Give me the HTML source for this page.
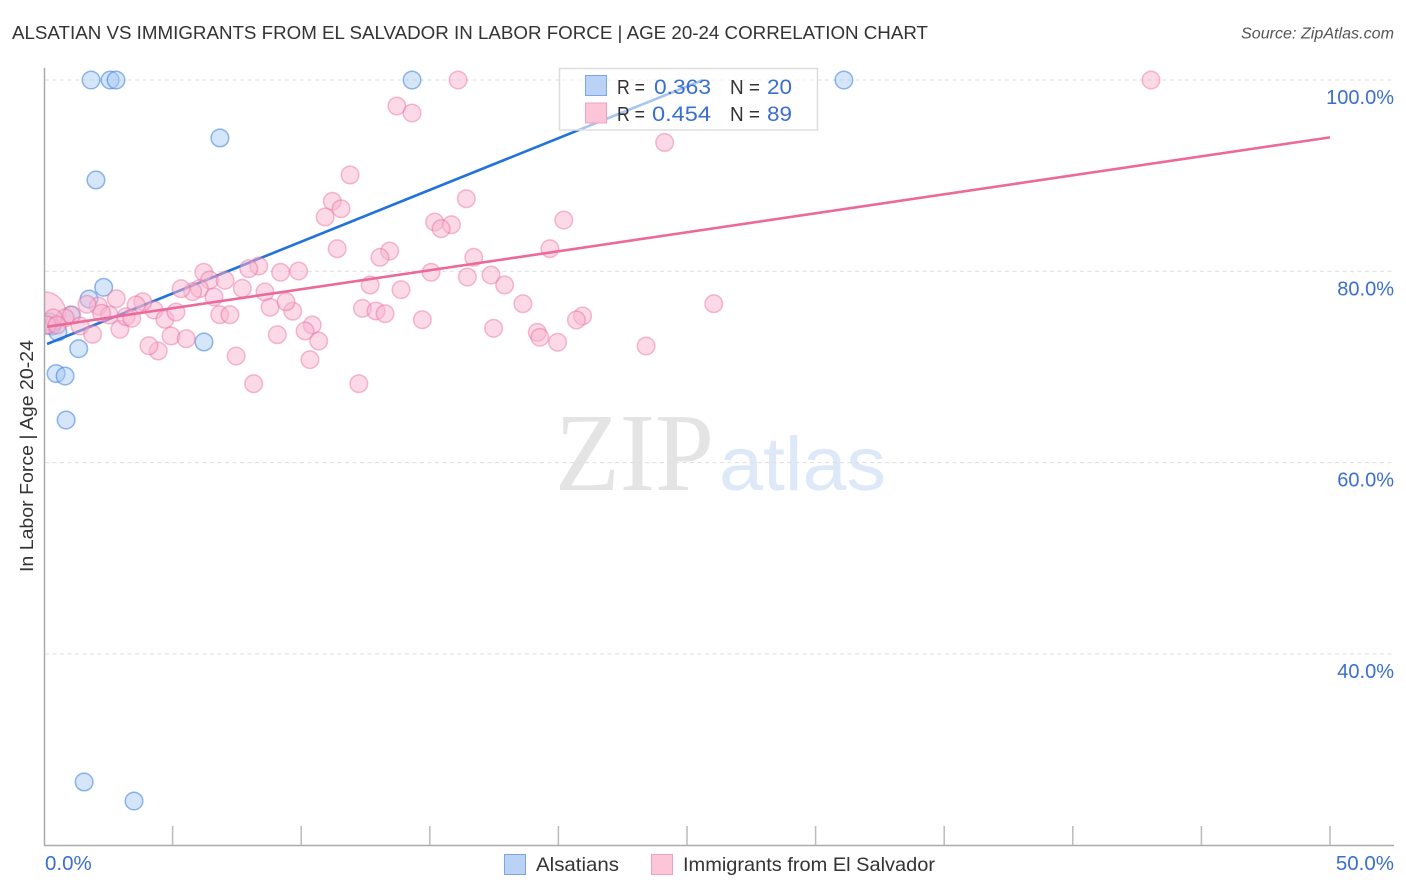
<!DOCTYPE html>
<html lang="en">
<head>
<meta charset="utf-8">
<title>Alsatian vs Immigrants from El Salvador in Labor Force | Age 20-24 Correlation Chart</title>
<style>
html,body{margin:0;padding:0;background:#fff;width:1406px;height:892px;overflow:hidden}
svg{display:block;font-family:"Liberation Sans",sans-serif}
</style>
</head>
<body>
<svg id="chart" xmlns="http://www.w3.org/2000/svg" width="1406" height="892" viewBox="0 0 1406 892">
  <text x="12" y="39" font-size="18.6" fill="#333" textLength="916" lengthAdjust="spacingAndGlyphs">ALSATIAN VS IMMIGRANTS FROM EL SALVADOR IN LABOR FORCE | AGE 20-24 CORRELATION CHART</text>
  <text x="1241" y="38.5" font-size="15.5" font-style="italic" fill="#555" textLength="153" lengthAdjust="spacingAndGlyphs">Source: ZipAtlas.com</text>
  <g>
    <text x="555" y="490" font-family="'Liberation Serif',serif" font-size="111" fill="#e4e4e4" textLength="159" lengthAdjust="spacingAndGlyphs">ZIP</text>
    <text x="719" y="490" font-size="76" fill="#dde8f8" textLength="167" lengthAdjust="spacingAndGlyphs">atlas</text>
  </g>
  <g id="grid"></g>
  <clipPath id="plot-clip"><rect x="45" y="60" width="1349" height="785"></rect></clipPath>
  <g id="marks-blue" clip-path="url(#plot-clip)"></g>
  <g id="trend-blue"></g>
  <g id="marks-pink" clip-path="url(#plot-clip)"></g>
  <g id="trend-pink"></g>
  <rect x="0" y="285" width="43.7" height="54" fill="#fff"></rect>
  <g id="axes"></g>
  <g>
    <rect x="559.5" y="68.5" width="258" height="61.5" fill="#fff" fill-opacity="0.6" stroke="#ddd" stroke-width="1.5"></rect>
    <rect x="585.5" y="75.5" width="21" height="20" fill="#b9d2f6" stroke="#7ba6e2" stroke-width="1"></rect>
    <rect x="585.5" y="103" width="21" height="20" fill="#fcc5d8" stroke="#f0a0bc" stroke-width="1"></rect>
    <text x="617" y="94" font-size="20" fill="#333" textLength="28" lengthAdjust="spacingAndGlyphs">R =</text>
    <text x="654" y="94" font-size="21.5" fill="#3a6fcf" textLength="57" lengthAdjust="spacingAndGlyphs">0.363</text>
    <text x="730" y="94" font-size="20" fill="#333" textLength="30" lengthAdjust="spacingAndGlyphs">N =</text>
    <text x="767" y="94" font-size="21.5" fill="#3a6fcf" textLength="25" lengthAdjust="spacingAndGlyphs">20</text>
    <text x="617" y="121" font-size="20" fill="#333" textLength="28" lengthAdjust="spacingAndGlyphs">R =</text>
    <text x="652" y="121" font-size="21.5" fill="#3a6fcf" textLength="59" lengthAdjust="spacingAndGlyphs">0.454</text>
    <text x="730" y="121" font-size="20" fill="#333" textLength="30" lengthAdjust="spacingAndGlyphs">N =</text>
    <text x="767" y="121" font-size="21.5" fill="#3a6fcf" textLength="25" lengthAdjust="spacingAndGlyphs">89</text>
  </g>
  <text transform="translate(33,456) rotate(-90)" font-size="18.5" fill="#333" text-anchor="middle" textLength="232" lengthAdjust="spacingAndGlyphs">In Labor Force | Age 20-24</text>
  <g>
    <g>
      <rect x="504.5" y="854.5" width="21" height="20" fill="#b9d2f6" stroke="#7ba6e2" stroke-width="1"></rect>
      <text x="536" y="871" font-size="19.5" fill="#333" textLength="83" lengthAdjust="spacingAndGlyphs">Alsatians</text>
    </g>
    <g>
      <rect x="651.5" y="854.5" width="21" height="20" fill="#fcc5d8" stroke="#f0a0bc" stroke-width="1"></rect>
      <text x="683" y="871" font-size="19.5" fill="#333" textLength="252" lengthAdjust="spacingAndGlyphs">Immigrants from El Salvador</text>
    </g>
  </g>
</svg>
<script>
const alsatianX = [1.83,2.57,2.80,14.31,31.10,6.84,2.02,2.32,1.75,1.05,0.23,0.31,0.54,1.35,0.47,0.82,0.86,6.22,1.56,3.50];
const alsatianY = [100,100,100,100,100,93.94,89.55,78.33,77.10,75.43,74.70,74.28,73.65,71.91,69.31,69.05,64.45,72.61,26.61,24.62];
const salvadorX = [11.90,11.21,11.55,10.93,11.40,13.44,13.06,16.42,15.19,15.84,15.44,16.71,15.05,16.46,17.38,17.91,12.68,13.88,9.90,18.62,12.38,12.91,13.26,14.71,17.48,10.43,10.15,10.68,10.34,12.24,9.67,9.41,8.35,7.96,9.20,6.21,6.44,7.04,7.71,6.04,5.78,5.33,6.61,8.59,8.79,4.28,4.70,5.13,6.83,7.23,9.07,4.94,5.53,4.44,4.08,7.47,8.15,20.21,19.67,26.04,20.94,20.70,19.18,19.28,19.97,23.41,16.10,43.04,13.72,14.31,24.13,2.81,2.11,1.67,3.84,3.58,2.54,2.24,1.08,0.82,0.36,1.40,1.89,2.95,3.19,3.41,0.12,0.51];
const salvadorY = [90.07,87.32,86.54,85.68,82.36,82.12,81.46,87.59,85.15,84.87,84.45,81.46,79.90,79.40,79.61,78.57,78.57,78.08,80.03,76.61,76.13,75.85,75.57,74.94,74.04,74.39,73.76,72.71,70.76,68.25,75.83,76.82,80.55,80.27,79.90,79.90,79.09,79.06,78.22,78.18,77.87,78.18,77.31,77.84,76.24,75.95,74.98,75.74,75.46,75.46,73.37,73.24,72.95,71.67,72.22,71.14,68.25,85.36,82.36,76.61,75.33,74.91,73.62,73.10,72.58,72.19,100,100,97.28,96.55,93.47,77.14,76.37,76.55,76.82,76.48,75.43,75.61,75.43,75.12,75.12,74.28,73.41,73.94,75.25,75.09,74.39,74.39];
const largeSalvadorX = [0.02];
const largeSalvadorY = [75.64];
const largeSalvadorWeight = [5.8];
const alsatianTrendX = [0.12,25.62];
const alsatianTrendY = [72.4,100];
const salvadorTrendX = [0.12,50];
const salvadorTrendY = [74.2,94.0];
const yTickValues = [100,80,60,40];
const yTickLabels = ["100.0%","80.0%","60.0%","40.0%"];
const xTickValues = [5,10,15,20,25,30,35,40,45,50];
const xEndValues = [0,50];
const xEndLabels = ["0.0%","50.0%"];

const SVGNS = "http://www.w3.org/2000/svg";
function xScale(v){ return 44 + v * 25.72; }
function yScale(v){ return 80 + (100 - v) * 9.565; }
function make(parent, tag, attrs){
  const el = document.createElementNS(SVGNS, tag);
  for (const k in attrs) el.setAttribute(k, attrs[k]);
  parent.appendChild(el);
  return el;
}
const grid = document.getElementById("grid");
const axes = document.getElementById("axes");
const marksBlue = document.getElementById("marks-blue");
const marksPink = document.getElementById("marks-pink");
const trendBlue = document.getElementById("trend-blue");
const trendPink = document.getElementById("trend-pink");

yTickValues.forEach(function(v, i){
  const line = make(grid, "line", {x1:45, x2:1394, y1:yScale(v), y2:yScale(v), stroke:"#dedede", "stroke-width":1, "stroke-dasharray":"4 3.5"});
  
  
  const label = make(axes, "text", {x:1394, y:yScale(v) + 24, "text-anchor":"end", "font-size":20, fill:"#3a6fcf"});
  label.textContent = yTickLabels[i];
  
  
});

const yAxisLine = make(axes, "line", {x1:44.5, x2:44.5, y1:68, y2:846, stroke:"#aaa", "stroke-width":1.5});


const xAxisLine = make(axes, "line", {x1:44, x2:1394, y1:845.5, y2:845.5, stroke:"#aaa", "stroke-width":1.5});



xTickValues.forEach(function(v){
  const tick = make(axes, "line", {x1:xScale(v), x2:xScale(v), y1:826, y2:845, stroke:"#bbb", "stroke-width":1.5});
  
  
});
xEndValues.forEach(function(v, i){
  const label = make(axes, "text", {x: i === 0 ? xScale(v) + 1 : 1394, y:870, "text-anchor": i === 0 ? "start" : "end", "font-size":20.5, fill:"#3a6fcf"});
  label.textContent = xEndLabels[i];
  
  
});

const BASE_R = 8.8;
function radius(weight){ return BASE_R * Math.sqrt(weight); }
const pinkStyle = {fill:"rgba(248,180,205,0.5)", stroke:"rgba(232,100,150,0.42)", "stroke-width":1.5};
const blueStyle = {fill:"rgba(165,200,245,0.47)", stroke:"rgba(50,120,215,0.52)", "stroke-width":1.5};

alsatianX.forEach(function(v, i){
  const c = make(marksBlue, "circle", Object.assign({cx:xScale(v), cy:yScale(alsatianY[i]), r:radius(1)}, blueStyle));
  
  
});
const blueTrend = make(trendBlue, "line", {x1:xScale(alsatianTrendX[0]), y1:yScale(alsatianTrendY[0]), x2:xScale(alsatianTrendX[1]), y2:yScale(alsatianTrendY[1]), stroke:"#2272dc", "stroke-width":2.6});



largeSalvadorX.forEach(function(v, i){
  const c = make(marksPink, "circle", Object.assign({cx:xScale(v), cy:yScale(largeSalvadorY[i]), r:radius(largeSalvadorWeight[i])}, pinkStyle));
  
  
});
salvadorX.forEach(function(v, i){
  const c = make(marksPink, "circle", Object.assign({cx:xScale(v), cy:yScale(salvadorY[i]), r:radius(1)}, pinkStyle));
  
  
});
const pinkTrend = make(trendPink, "line", {x1:xScale(salvadorTrendX[0]), y1:yScale(salvadorTrendY[0]), x2:xScale(salvadorTrendX[1]), y2:yScale(salvadorTrendY[1]), stroke:"#ec6a9a", "stroke-width":2.6});


</script>
</body>
</html>
